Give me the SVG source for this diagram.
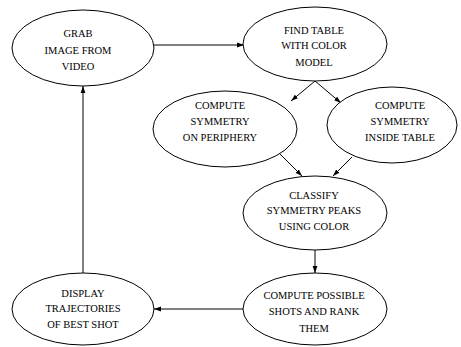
<svg xmlns="http://www.w3.org/2000/svg" width="461" height="347" viewBox="0 0 461 347">
<style>
.n ellipse{fill:#fff;stroke:#000;stroke-width:1}
.n text{font-family:"Liberation Serif","Times New Roman",serif;font-size:10.5px;fill:#000;text-anchor:middle}
.e line{stroke:#000;stroke-width:1;fill:none}
</style>
<defs>
<marker id="ah" markerWidth="8" markerHeight="6" refX="7" refY="3" orient="auto" markerUnits="userSpaceOnUse">
<path d="M0,0.6 L7,3 L0,5.4 Z" fill="#000"/>
</marker>
</defs>
<rect width="461" height="347" fill="#fff"/>
<g id="connectors" class="e">
<line x1="154" y1="45" x2="244" y2="45" marker-end="url(#ah)"/>
<line x1="315" y1="81" x2="291" y2="101" marker-end="url(#ah)"/>
<line x1="315" y1="81" x2="341" y2="103" marker-end="url(#ah)"/>
<line x1="280" y1="154" x2="302" y2="176" marker-end="url(#ah)"/>
<line x1="352" y1="157" x2="333" y2="176" marker-end="url(#ah)"/>
<line x1="315" y1="250" x2="315" y2="273" marker-end="url(#ah)"/>
<line x1="243" y1="309" x2="154" y2="309" marker-end="url(#ah)"/>
<line x1="83" y1="273" x2="83" y2="86" marker-end="url(#ah)"/>
</g>
<g id="grab" class="n">
<ellipse cx="83" cy="48" rx="71" ry="38"/>
<text x="78" y="36.5">GRAB</text>
<text x="78" y="53.5">IMAGE FROM</text>
<text x="78" y="70">VIDEO</text>
</g>
<g id="find" class="n">
<ellipse cx="315" cy="44" rx="72" ry="37"/>
<text x="314" y="33.5">FIND TABLE</text>
<text x="314" y="48.5">WITH COLOR</text>
<text x="314" y="65.5">MODEL</text>
</g>
<g id="periphery" class="n">
<ellipse cx="225" cy="129" rx="72" ry="38"/>
<text x="220" y="108.5">COMPUTE</text>
<text x="220" y="125">SYMMETRY</text>
<text x="220" y="141">ON PERIPHERY</text>
</g>
<g id="inside" class="n">
<ellipse cx="392" cy="125" rx="65" ry="38"/>
<text x="400" y="108.5">COMPUTE</text>
<text x="400" y="125">SYMMETRY</text>
<text x="400" y="141">INSIDE TABLE</text>
</g>
<g id="classify" class="n">
<ellipse cx="315" cy="213" rx="72" ry="37"/>
<text x="314" y="198.5">CLASSIFY</text>
<text x="314" y="213.5">SYMMETRY PEAKS</text>
<text x="314" y="229.5">USING COLOR</text>
</g>
<g id="compute" class="n">
<ellipse cx="315" cy="309" rx="72" ry="36"/>
<text x="314" y="299">COMPUTE POSSIBLE</text>
<text x="314" y="315">SHOTS AND RANK</text>
<text x="314" y="331.5">THEM</text>
</g>
<g id="display" class="n">
<ellipse cx="83" cy="309" rx="71" ry="36"/>
<text x="83" y="296.5">DISPLAY</text>
<text x="83" y="312">TRAJECTORIES</text>
<text x="83" y="328">OF BEST SHOT</text>
</g>
</svg>
